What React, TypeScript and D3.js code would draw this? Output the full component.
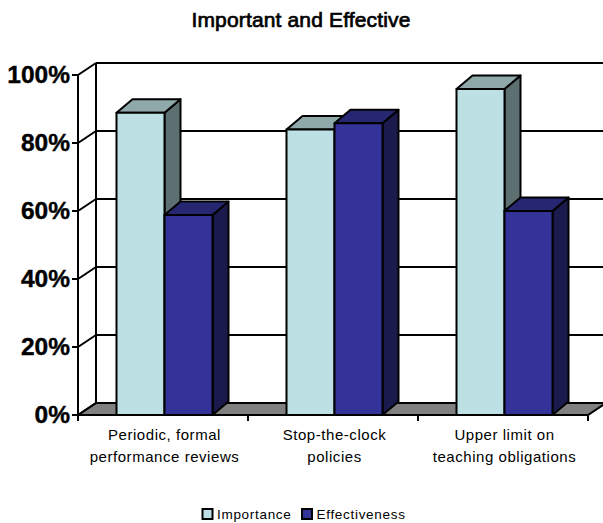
import React from "react";
import * as d3 from "d3";

const categories = [
  ["Periodic, formal", "performance reviews"],
  ["Stop-the-clock", "policies"],
  ["Upper limit on", "teaching obligations"],
];
const categoryKeys = ["periodic", "stop", "upper"];
const importance = [88.9, 84, 95.9];
const effectiveness = [58.8, 85.8, 60];
const yTicks = [0, 20, 40, 60, 80, 100];
const seriesNames = ["Importance", "Effectiveness"];

const FONT = "'Liberation Sans', Arial, sans-serif";
const W = 603;
const H = 523;

// Front plane of the 3D box and the offset to its back wall
const left = 78;
const right = 588;
const baseY = 415;
const topY = 75;
const wallDx = 18;
const wallDy = -12;
// Depth of each column's extrusion
const barDx = 16;
const barDy = -13.5;
const LINE = 2;

const y = d3.scaleLinear().domain([0, 100]).range([baseY, topY]);
const xBand = d3.scaleBand<string>().domain(categoryKeys).range([left, right]);
const barWidth = 48;
const barOffset = 38.5;

const palette = [
  { front: "#BCE0E3", top: "#8FA8AA", side: "#5E6F71" },
  { front: "#333399", top: "#262673", side: "#1A1A4D" },
];

const poly = (pts: [number, number][]) => pts.map((p) => p.join(",")).join(" ");

function Bar({ x, value, colors }: { x: number; value: number; colors: (typeof palette)[number] }) {
  const yTop = y(value);
  const x2 = x + barWidth;
  const common = { stroke: "#000", strokeWidth: LINE, strokeLinejoin: "round" as const };
  return (
    <g>
      <polygon
        points={poly([[x2, yTop], [x2 + barDx, yTop + barDy], [x2 + barDx, baseY + barDy], [x2, baseY]])}
        fill={colors.side}
        {...common}
      />
      <polygon
        points={poly([[x, yTop], [x + barDx, yTop + barDy], [x2 + barDx, yTop + barDy], [x2, yTop]])}
        fill={colors.top}
        {...common}
      />
      <rect x={x} y={yTop} width={barWidth} height={baseY - yTop} fill={colors.front} {...common} />
    </g>
  );
}

export default function App() {
  return (
    <svg
      width={W}
      height={H}
      viewBox={`0 0 ${W} ${H}`}
      style={{ position: "absolute", left: 0, top: 0, background: "#fff" }}
      fontFamily={FONT}
    >
      <text x={301} y={27} textAnchor="middle" fontSize={21} fill="#000" stroke="#000" strokeWidth={0.7} letterSpacing={0.15}>
        Important and Effective
      </text>

      {/* Floor */}
      <polygon
        points={poly([[left, baseY], [left + wallDx, baseY + wallDy], [right + wallDx, baseY + wallDy], [right, baseY]])}
        fill="#808080"
        stroke="#000"
        strokeWidth={LINE}
      />

      {/* Wall gridlines, side-wall diagonals and value labels */}
      {yTicks.map((t) => (
        <g key={t}>
          <line x1={left} x2={left + wallDx} y1={y(t)} y2={y(t) + wallDy} stroke="#000" strokeWidth={LINE} />
          <line x1={left + wallDx} x2={right + wallDx} y1={y(t) + wallDy} y2={y(t) + wallDy} stroke="#000" strokeWidth={LINE} />
          <line x1={left - 6} x2={left} y1={y(t)} y2={y(t)} stroke="#000" strokeWidth={LINE} />
          <text x={70} y={y(t) + 8} textAnchor="end" fontSize={24.5} fontWeight={700} fill="#000" stroke="#000" strokeWidth={0.4}>
            {d3.format("d")(t)}%
          </text>
        </g>
      ))}
      <line x1={left} x2={left} y1={topY} y2={baseY + 6} stroke="#000" strokeWidth={LINE} />
      <line x1={left + wallDx} x2={left + wallDx} y1={topY + wallDy} y2={baseY + wallDy} stroke="#000" strokeWidth={LINE} />

      {/* Front edge of the floor and category ticks */}
      <line x1={left} x2={right} y1={baseY} y2={baseY} stroke="#000" strokeWidth={LINE} />
      {[...categoryKeys.map((k) => xBand(k) as number), right].map((x) => (
        <line key={x} x1={x} x2={x} y1={baseY} y2={baseY + 6} stroke="#000" strokeWidth={LINE} />
      ))}

      {/* Columns, drawn so each overlaps the depth of its left neighbour */}
      {categoryKeys.map((k, i) => {
        const x0 = (xBand(k) as number) + barOffset;
        return (
          <g key={k}>
            <Bar x={x0} value={importance[i]} colors={palette[0]} />
            <Bar x={x0 + barWidth} value={effectiveness[i]} colors={palette[1]} />
          </g>
        );
      })}

      {/* Category labels */}
      {categoryKeys.map((k, i) => {
        const cx = (xBand(k) as number) + xBand.bandwidth() / 2 + 1.5;
        return (
          <text key={k} textAnchor="middle" fontSize={15} fill="#000" letterSpacing={0.55}>
            <tspan x={cx} y={440}>{categories[i][0]}</tspan>
            <tspan x={cx} y={462}>{categories[i][1]}</tspan>
          </text>
        );
      })}

      {/* Legend */}
      {seriesNames.map((name, i) => {
        const sx = i === 0 ? 202.5 : 302;
        return (
          <g key={name}>
            <rect x={sx} y={509} width={10} height={10} fill={palette[i].front} stroke="#000" strokeWidth={LINE} />
            <text x={sx + 14.5} y={519} fontSize={13.5} fill="#000" letterSpacing={0.7}>
              {name}
            </text>
          </g>
        );
      })}
    </svg>
  );
}
